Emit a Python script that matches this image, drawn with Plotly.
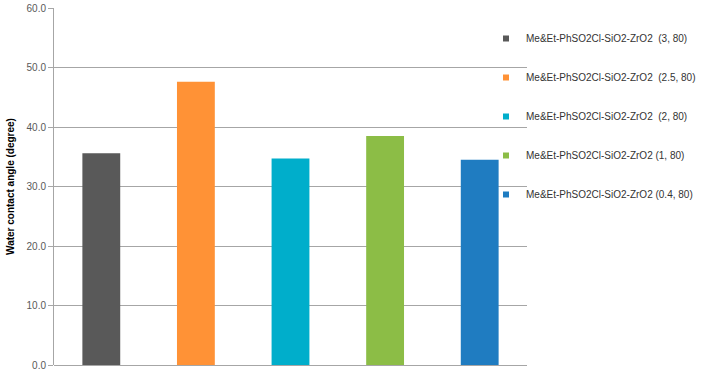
import plotly.graph_objects as go

series_names = [
    "Me&Et-PhSO2Cl-SiO2-ZrO2\u00a0\u00a0(3, 80)",
    "Me&Et-PhSO2Cl-SiO2-ZrO2\u00a0\u00a0(2.5, 80)",
    "Me&Et-PhSO2Cl-SiO2-ZrO2\u00a0\u00a0(2, 80)",
    "Me&Et-PhSO2Cl-SiO2-ZrO2 (1, 80)",
    "Me&Et-PhSO2Cl-SiO2-ZrO2 (0.4, 80)",
]
values = [35.6, 47.6, 34.7, 38.5, 34.5]
colors = ["#595959", "#FF9236", "#00AECB", "#8CBD46", "#1F7CC1"]
y_ticks = [0, 10, 20, 30, 40, 50, 60]

W, H = 703, 370
L, R, T, B = 54, 703 - 527, 8, 5
pw = W - L - R
ph = H - T - B

fig = go.Figure()
for i, (name, v, c) in enumerate(zip(series_names, values, colors)):
    fig.add_trace(go.Bar(
        x=[i], y=[v], name=name, marker=dict(color=c, line=dict(width=0)),
        width=0.4, legendgroup=f"g{i}", showlegend=False,
    ))
    # legend entry with a small square swatch
    fig.add_trace(go.Scatter(
        x=[None], y=[None], mode="markers", name=name,
        marker=dict(symbol="square", size=6, color=c),
        legendgroup=f"g{i}", showlegend=True,
    ))

def px_x(p):
    return (p - L) / pw

def px_y(p):
    return (H - B - p) / ph

fig.add_shape(type="rect", xref="paper", yref="paper",
              x0=px_x(502), x1=px_x(W + 5), y0=px_y(215), y1=px_y(0),
              fillcolor="white", line=dict(width=0), layer="between")

fig.update_layout(
    width=W, height=H,
    margin=dict(l=L, r=R, t=T, b=B, autoexpand=False),
    paper_bgcolor="white", plot_bgcolor="white",
    barmode="overlay",
    font=dict(family="Liberation Sans", size=10, color="#404040"),
    showlegend=True,
    legend=dict(
        x=px_x(486), y=px_y(24), xanchor="left", yanchor="top",
        bgcolor="rgba(0,0,0,0)", traceorder="grouped", tracegroupgap=20,
        font=dict(family="Liberation Sans", size=10, color="#333333"),
        itemwidth=30,
    ),
    xaxis=dict(
        range=[-0.5, 4.5], showticklabels=False, showgrid=False,
        zeroline=False, showline=False, ticks="", automargin=False,
    ),
    yaxis=dict(
        range=[0, 60], tickvals=y_ticks, tickformat=".1f",
        showgrid=True, gridcolor="#A6A6A6", gridwidth=1,
        showline=True, linecolor="#A6A6A6", linewidth=1,
        ticks="outside", ticklen=5, tickcolor="#A6A6A6",
        zeroline=True, zerolinecolor="#A6A6A6", zerolinewidth=1,
        ticklabeloverflow="allow", automargin=False,
        tickfont=dict(family="Liberation Sans", size=10, color="#595959"),
        title=dict(text="<b>Water contact angle (degree)</b>", standoff=10,
                   font=dict(family="Liberation Sans", size=10, color="#000000")),
    ),
)

fig.write_html("out.html")
